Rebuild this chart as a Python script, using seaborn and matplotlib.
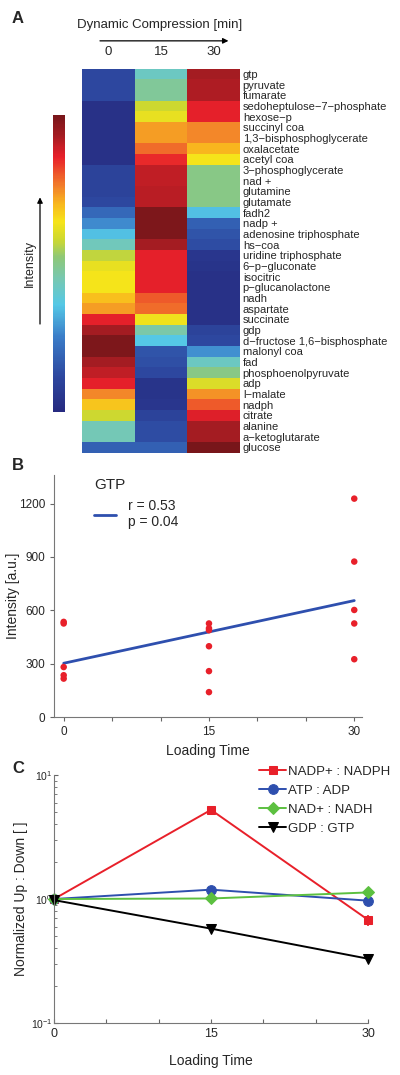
import matplotlib
matplotlib.use('Agg')
import matplotlib.pyplot as plt
from matplotlib.colors import LinearSegmentedColormap
from matplotlib.ticker import FixedLocator, LogLocator, NullFormatter
import numpy as np
import pandas as pd
import seaborn as sns

# ---- Panel A data: metabolite heatmap (normalised intensity 0..1) ----
metabolites = ['gtp', 'pyruvate', 'fumarate', 'sedoheptulose\u22127\u2212phosphate', 'hexose\u2212p',
               'succinyl coa', '1,3\u2212bisphosphoglycerate', 'oxalacetate', 'acetyl coa',
               '3\u2212phosphoglycerate', 'nad +', 'glutamine', 'glutamate', 'fadh2', 'nadp +',
               'adenosine triphosphate', 'hs\u2212coa', 'uridine triphosphate', '6\u2212p\u2212gluconate',
               'isocitric', 'p\u2212glucanolactone', 'nadh', 'aspartate', 'succinate', 'gdp',
               'd\u2212fructose 1,6\u2212bisphosphate', 'malonyl coa', 'fad', 'phosphoenolpyruvate',
               'adp', 'l\u2212malate', 'nadph', 'citrate', 'alanine', 'a\u2212ketoglutarate', 'glucose']
heat_cols = ['0', '15', '30']
int_0 = [0.12, 0.12, 0.12, 0.03, 0.03, 0.03, 0.03, 0.03, 0.03, 0.10, 0.10, 0.10,
         0.12, 0.20, 0.27, 0.35, 0.43, 0.57, 0.62, 0.64, 0.64, 0.69, 0.73, 0.86,
         0.93, 0.99, 0.99, 0.93, 0.90, 0.86, 0.75, 0.68, 0.58, 0.44, 0.44, 0.18]
int_15 = [0.42, 0.48, 0.48, 0.58, 0.62, 0.73, 0.73, 0.78, 0.85, 0.90, 0.90, 0.91,
          0.91, 0.99, 0.99, 0.99, 0.93, 0.86, 0.86, 0.86, 0.86, 0.80, 0.78, 0.63,
          0.46, 0.36, 0.15, 0.14, 0.12, 0.04, 0.04, 0.05, 0.10, 0.13, 0.13, 0.18]
int_30 = [0.93, 0.92, 0.92, 0.86, 0.86, 0.75, 0.75, 0.70, 0.64, 0.50, 0.50, 0.50,
          0.50, 0.35, 0.18, 0.15, 0.13, 0.05, 0.04, 0.03, 0.03, 0.03, 0.03, 0.03,
          0.10, 0.12, 0.28, 0.42, 0.50, 0.60, 0.74, 0.80, 0.87, 0.93, 0.93, 1.00]

# ---- Panel B data: GTP intensity vs loading time ----
gtp_time = [0, 0, 0, 0, 0, 15, 15, 15, 15, 15, 15, 30, 30, 30, 30, 30]
gtp_intensity = [535, 526, 281, 235, 216, 526, 499, 488, 398, 258, 140,
                 1228, 874, 602, 526, 325]

# ---- Panel C data: normalised ratios ----
ratio_time = [0, 15, 30]
nadp_nadph = [1.0, 5.24, 0.68]
nadp_err = [0.0, 0.0, 0.07]
atp_adp = [1.0, 1.19, 0.97]
nad_nadh = [1.0, 1.01, 1.13]
gdp_gtp = [0.98, 0.577, 0.33]

sns.set_style('ticks')
plt.rcParams['font.family'] = ['Liberation Sans', 'DejaVu Sans']

jet_like = LinearSegmentedColormap.from_list('jetlike', [
    (0.00, '#262a80'), (0.12, '#2d48a0'), (0.25, '#3a7cc8'), (0.36, '#55c8e6'),
    (0.45, '#78c8b0'), (0.52, '#8ec878'), (0.58, '#cdd830'), (0.64, '#f6e41a'),
    (0.70, '#f8b81e'), (0.76, '#f2802a'), (0.86, '#e8202a'), (0.93, '#a61c22'),
    (1.00, '#78161a')])

fig = plt.figure(figsize=(4, 10.75), dpi=100)

# ---------------- Panel A ----------------
df_heat = pd.DataFrame({'0': int_0, '15': int_15, '30': int_30}, index=metabolites)[heat_cols]
ax_h = fig.add_axes([0.205, 0.579, 0.395, 0.357])
cax = fig.add_axes([0.1325, 0.617, 0.03, 0.276])
sns.heatmap(df_heat, ax=ax_h, cmap=jet_like, vmin=0, vmax=1, cbar_ax=cax,
            xticklabels=True, yticklabels=True)
ax_h.yaxis.tick_right()
ax_h.tick_params(axis='y', length=0, pad=2, labelsize=8, labelrotation=0)
ax_h.xaxis.tick_top()
ax_h.tick_params(axis='x', length=0, pad=8, labelsize=9.5)
cax.set_yticks([])
for sp in cax.spines.values():
    sp.set_visible(False)

fig.text(0.03, 0.983, 'A', fontsize=12, fontweight='bold', va='center')
fig.text(0.40, 0.977, 'Dynamic Compression [min]', fontsize=9.5, ha='center', va='center')
fig.patches.append(matplotlib.patches.FancyArrowPatch(
    (0.243, 0.962), (0.578, 0.962), transform=fig.transFigure,
    arrowstyle='-|>', mutation_scale=8, color='black', lw=0.9))
fig.text(0.075, 0.755, 'Intensity', fontsize=9, rotation=90, ha='center', va='center')
fig.patches.append(matplotlib.patches.FancyArrowPatch(
    (0.1, 0.696), (0.1, 0.819), transform=fig.transFigure,
    arrowstyle='-|>', mutation_scale=8, color='black', lw=0.9))

# ---------------- Panel B ----------------
ax_b = fig.add_axes([0.135, 0.333, 0.77, 0.225])
df_b = pd.DataFrame({'time': gtp_time, 'intensity': gtp_intensity})
sns.scatterplot(data=df_b, x='time', y='intensity', ax=ax_b, color='#e8202a',
                s=22, edgecolor='none', zorder=3)
sns.regplot(data=df_b, x='time', y='intensity', ax=ax_b, scatter=False, ci=None,
            color='#2e4fae', line_kws={'lw': 2}, label='r = 0.53\np = 0.04')
ax_b.set_xlim(-1, 30.8)
ax_b.set_ylim(0, 1360)
ax_b.set_xticks([0, 5, 10, 15, 20, 25, 30])
ax_b.set_xticklabels(['0', '', '', '15', '', '', '30'])
ax_b.set_yticks([0, 300, 600, 900, 1200])
ax_b.tick_params(labelsize=8.5, length=3, color='#666666')
ax_b.set_xlabel('Loading Time', fontsize=10)
ax_b.set_ylabel('Intensity [a.u.]', fontsize=10, labelpad=-1)
for side in ['top', 'right']:
    ax_b.spines[side].set_visible(False)
for side in ['left', 'bottom']:
    ax_b.spines[side].set_color('#777777')
ax_b.legend(title='GTP', loc='upper left', bbox_to_anchor=(0.09, 1.04), frameon=False,
            fontsize=10, title_fontsize=11, handlelength=1.6, alignment='left')
fig.text(0.03, 0.567, 'B', fontsize=12, fontweight='bold', va='center')

# ---------------- Panel C ----------------
ax_c = fig.add_axes([0.135, 0.0484, 0.785, 0.2306])
df_c = pd.DataFrame({'time': ratio_time, 'NADP+ : NADPH': nadp_nadph, 'ATP : ADP': atp_adp,
                     'NAD+ : NADH': nad_nadh, 'GDP : GTP': gdp_gtp})
series_style = [('NADP+ : NADPH', '#e8202a', 's', 5.5),
                ('ATP : ADP', '#2e4fae', 'o', 7),
                ('NAD+ : NADH', '#5cc040', 'D', 6),
                ('GDP : GTP', 'black', 'v', 7.5)]
for name, col, mk, ms in series_style:
    sns.lineplot(data=df_c, x='time', y=name, ax=ax_c, color=col, marker=mk,
                 markersize=ms, markeredgecolor=col, lw=1.4, label=name, clip_on=False)
ax_c.errorbar(ratio_time, nadp_nadph, yerr=nadp_err, fmt='none', ecolor='#e8202a', lw=1.2,
              clip_on=False)
ax_c.set_yscale('log')
ax_c.set_ylim(0.1, 10)
ax_c.set_xlim(0, 30)
ax_c.set_xticks([0, 5, 10, 15, 20, 25, 30])
ax_c.set_xticklabels(['0', '', '', '15', '', '', '30'])
ax_c.yaxis.set_major_locator(FixedLocator([0.1, 1, 10]))
ax_c.yaxis.set_minor_locator(LogLocator(base=10, subs=np.arange(2, 10)))
ax_c.yaxis.set_minor_formatter(NullFormatter())
ax_c.tick_params(axis='both', which='both', direction='in', color='#666666')
ax_c.tick_params(axis='x', labelsize=9, length=3)
ax_c.tick_params(axis='y', labelsize=7.5, length=3, pad=1)
ax_c.tick_params(axis='y', which='minor', length=1.8)
ax_c.set_xlabel('Loading Time', fontsize=10, labelpad=10)
ax_c.set_ylabel('Normalized Up : Down [ ]', fontsize=10, labelpad=2)
for side in ['top', 'right']:
    ax_c.spines[side].set_visible(False)
for side in ['left', 'bottom']:
    ax_c.spines[side].set_color('#777777')
ax_c.legend(loc='upper right', bbox_to_anchor=(1.11, 1.085), frameon=False, fontsize=9.5,
            handlelength=2.0, handletextpad=0.2, labelspacing=0.5)
fig.text(0.03, 0.285, 'C', fontsize=12, fontweight='bold', va='center')

fig.savefig('out.png', dpi=100)
